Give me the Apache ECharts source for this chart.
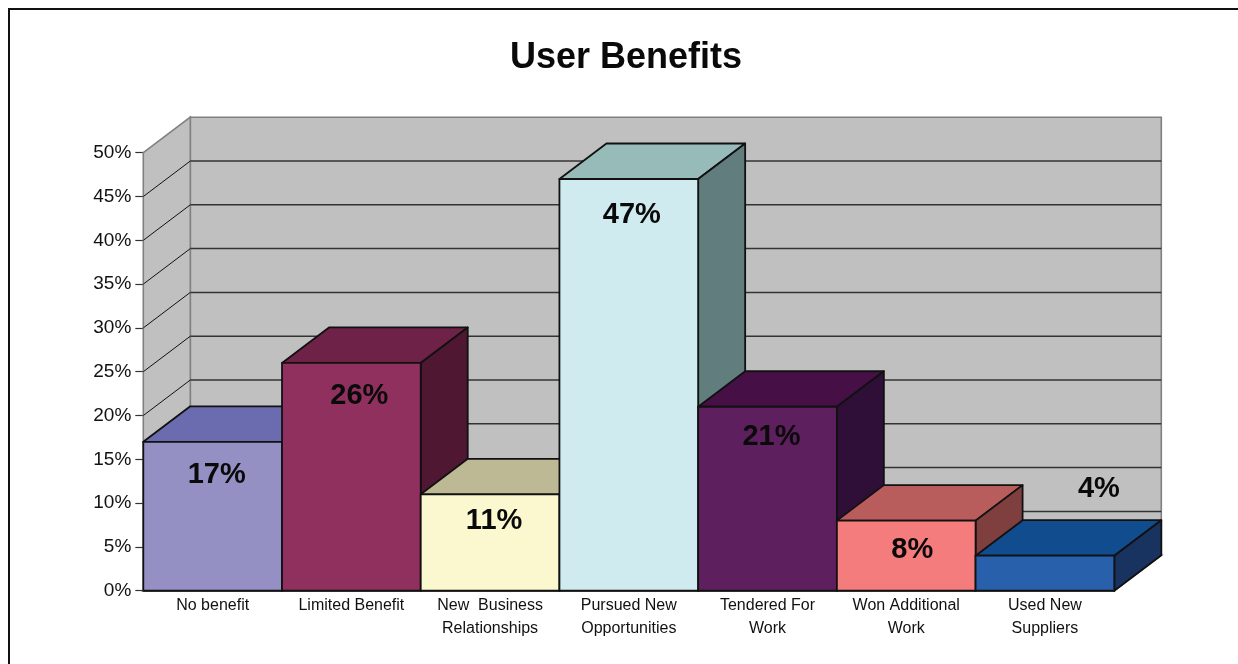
<!DOCTYPE html>
<html>
<head>
<meta charset="utf-8">
<style>html,body{margin:0;padding:0;background:#fff;overflow:hidden}#c{width:1238px;height:664px}</style>
<script src="https://cdn.jsdelivr.net/npm/echarts@6/dist/echarts.min.js"></script>
</head>
<body>
<div id="c"></div>
<script>
// Survey results
const categories = ['No benefit', 'Limited Benefit', 'New  Business\nRelationships', 'Pursued New\nOpportunities', 'Tendered For\nWork', 'Won Additional\nWork', 'Used New\nSuppliers'];
const values = [17, 26, 11, 47, 21, 8, 4];
const yTicks = [0, 5, 10, 15, 20, 25, 30, 35, 40, 45, 50];

// Face colours of each block: front, top, right side
const frontColors = ['#9490C4', '#90305E', '#FBF7CE', '#CFEBEF', '#5E1F5E', '#F57C7C', '#2860AC'];
const topColors = ['#6B6BB0', '#6E2248', '#BDB995', '#96BBB9', '#461046', '#B85C5C', '#114C8E'];
const sideColors = ['#4A4A7C', '#4F1732', '#85836A', '#627D7D', '#2F0F38', '#7F3F3F', '#18335F'];

// Pseudo-3D depth of the plot, in pixels, and label placement relative to a block's top centre
const depthX = 47, depthY = -35.5;
const labelDx = [4, 8, 4, 3, 4, 6, 54];
const labelDy = [33, 33, 27, 36, 30, 29, -67];

const FONT = '"Liberation Sans", Arial, sans-serif';
const chart = echarts.init(document.getElementById('c'));

function renderWalls(params, api) {
  const g = params.coordSys;
  const edge = { stroke: '#808080', lineWidth: 1.6, lineJoin: 'miter' };
  const poly = (points) => ({ type: 'polygon', shape: { points }, style: Object.assign({ fill: '#C0C0C0' }, edge) });
  const l = g.x, r = g.x + g.width, t = g.y, b = g.y + g.height;
  return {
    type: 'group',
    children: [
      poly([[l + depthX, t + depthY], [r + depthX, t + depthY], [r + depthX, b + depthY], [l + depthX, b + depthY]]),
      poly([[l, t], [l + depthX, t + depthY], [l + depthX, b + depthY], [l, b]]),
      poly([[l, b], [l + depthX, b + depthY], [r + depthX, b + depthY], [r, b]])
    ]
  };
}

function renderGridline(params, api) {
  const g = params.coordSys;
  const y = api.coord([0, api.value(0)])[1];
  const l = g.x, r = g.x + g.width;
  if (api.value(0) === 0 || api.value(0) === 50) return { type: 'group', children: [] };
  return {
    type: 'group',
    children: [
      { type: 'line', shape: { x1: l, y1: y, x2: l + depthX, y2: y + depthY }, style: { stroke: '#111', lineWidth: 1 } },
      { type: 'line', shape: { x1: l + depthX, y1: y + depthY, x2: r + depthX, y2: y + depthY }, style: { stroke: '#333', lineWidth: 1.5 } }
    ]
  };
}

function renderBlock(params, api) {
  const i = api.value(0), v = api.value(1);
  const w = api.size([1, 0])[0];
  const cx = api.coord([i, v])[0];
  const top = api.coord([i, v])[1], bottom = api.coord([i, 0])[1];
  const l = cx - w / 2, r = cx + w / 2;
  const edge = { stroke: '#111', lineWidth: 1.8, lineJoin: 'round' };
  const face = (points, fill) => ({ type: 'polygon', shape: { points }, style: Object.assign({ fill }, edge) });
  return {
    type: 'group',
    children: [
      face([[l, top], [l + depthX, top + depthY], [r + depthX, top + depthY], [r, top]], topColors[i]),
      face([[r, top], [r + depthX, top + depthY], [r + depthX, bottom + depthY], [r, bottom]], sideColors[i]),
      face([[l, top], [r, top], [r, bottom], [l, bottom]], frontColors[i]),
      {
        type: 'text',
        z2: 10,
        style: {
          text: v + '%', x: cx + labelDx[i], y: top + labelDy[i],
          align: 'center', verticalAlign: 'middle',
          font: 'bold 29px ' + FONT, fill: '#0a0a0a'
        }
      }
    ]
  };
}

chart.setOption({
  animation: false,
  backgroundColor: '#fff',
  textStyle: { fontFamily: FONT },
  title: {
    text: 'User Benefits', left: 621, top: 35, textAlign: 'center',
    textStyle: { fontFamily: FONT, fontSize: 36, fontWeight: 'bold', color: '#0a0a0a' }
  },
  graphic: [{
    type: 'rect', z: -1, silent: true,
    shape: { x: 9, y: 9, width: 1400, height: 800 },
    style: { fill: 'none', stroke: '#111', lineWidth: 2 }
  }],
  grid: { left: 143.3, top: 152.7, width: 971, height: 438 },
  xAxis: {
    type: 'category', data: categories,
    axisTick: { show: false },
    axisLine: { lineStyle: { color: '#111', width: 2 } },
    axisLabel: { interval: 0, fontSize: 16, color: '#111', lineHeight: 23, margin: 3, fontFamily: FONT }
  },
  yAxis: {
    type: 'value', min: 0, max: 50, interval: 5,
    splitLine: { show: false },
    axisLine: { show: true, lineStyle: { color: '#222', width: 2 } },
    axisTick: { show: true, length: 8, lineStyle: { color: '#333', width: 1.2 } },
    axisLabel: { formatter: '{value}%', fontSize: 19, color: '#111', margin: 12, fontFamily: FONT }
  },
  series: [
    { type: 'custom', name: 'walls', z: 1, silent: true, data: [[0]], renderItem: renderWalls },
    { type: 'custom', name: 'gridlines', z: 1, silent: true, encode: { y: 0 }, data: yTicks.map((t) => [t]), renderItem: renderGridline },
    { type: 'custom', name: 'User Benefits', z: 3, encode: { x: 0, y: 1 }, data: values.map((v, i) => [i, v]), renderItem: renderBlock }
  ]
});
</script>
</body>
</html>
